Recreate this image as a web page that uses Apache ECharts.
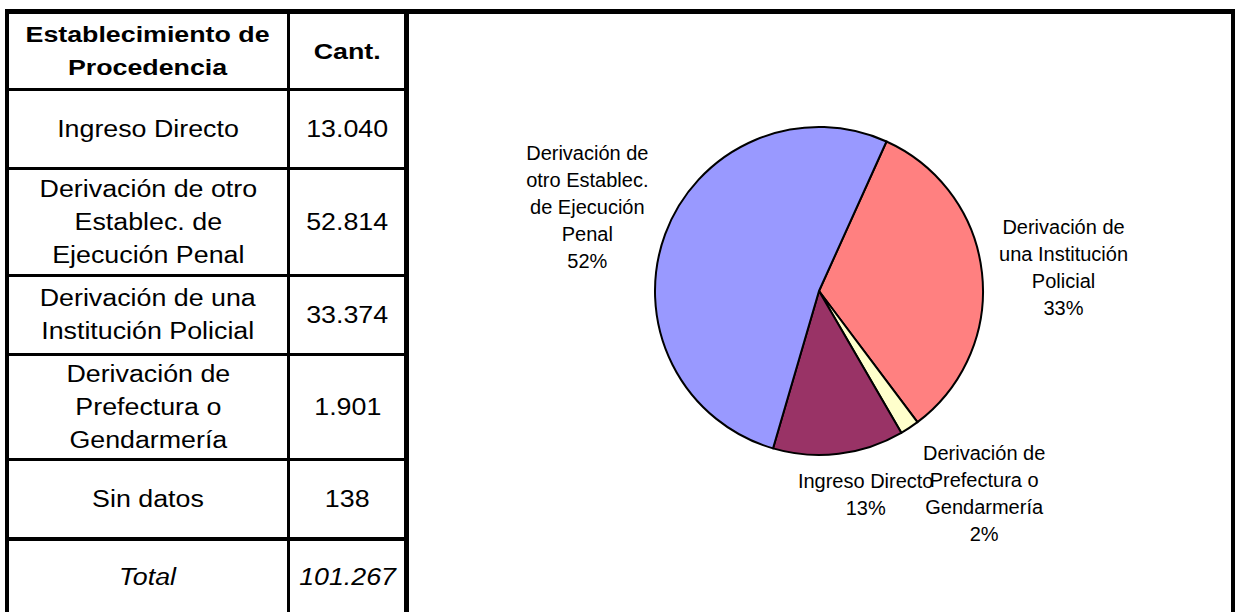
<!DOCTYPE html>
<html>
<head>
<meta charset="utf-8">
<script src="https://cdn.jsdelivr.net/npm/echarts@6/dist/echarts.min.js"></script>
<style>
  html, body { margin: 0; padding: 0; background: #fff; }
  body { width: 1238px; height: 612px; position: relative; overflow: hidden; }
  #chart { position: absolute; left: 0; top: 0; width: 1238px; height: 612px; }
  #overlay { position: absolute; left: 0; top: 0; width: 1238px; height: 612px; pointer-events: none; }
  .line { position: absolute; background: #000; }
  .cell { position: absolute; display: flex; align-items: center; justify-content: center; text-align: center;
          font-family: "Liberation Sans", Arial, sans-serif; color: #000; }
  .cell span { display: inline-block; white-space: pre; }
  .hdr span { font-weight: bold; font-size: 22.5px; line-height: 33px; transform: scaleX(1.19); }
  .body span { font-size: 23px; line-height: 33px; transform: scaleX(1.165); }
  .tot span { font-style: italic; }
</style>
</head>
<body>
<div id="chart"></div>
<div id="overlay"></div>
<script>
// ---------------- data ----------------
const headerLabels = ['Establecimiento de\nProcedencia', 'Cant.'];
const categories = ['Ingreso Directo', 'Derivación de otro Establec. de Ejecución Penal', 'Derivación de una Institución Policial', 'Derivación de Prefectura o Gendarmería', 'Sin datos'];
const tableCategoryText = ['Ingreso Directo', 'Derivación de otro\nEstablec. de\nEjecución Penal', 'Derivación de una\nInstitución Policial', 'Derivación de\nPrefectura o\nGendarmería', 'Sin datos'];
const counts = [13040, 52814, 33374, 1901, 138];
const totalLabel = 'Total';
const totalCount = 101267;
// pie (Sin datos not shown in the chart); clockwise order as drawn
const pieOrder = [2, 3, 0, 1];
const pieLabelNames = ['Ingreso Directo', 'Derivación de\notro Establec.\nde Ejecución\nPenal', 'Derivación de\nuna Institución\nPolicial', 'Derivación de\nPrefectura o\nGendarmería', 'Sin datos'];

// ---------------- styles / layout ----------------
const sliceColors = ['#993366', '#9999FF', '#FF8080', '#FFFFCC', '#CCFFFF'];
const pieCenter = [819, 291];
const pieRadius = 164;
// label placement per category: [distance of label centre from pie centre along the label direction, extra x, extra y]
const labelPlacement = [[205, 22, 0], [247, 0, 2], [246, 0, 3.5], [243, 31, 0], [200, 0, 0]];
// default (pre-layout) label line lengths, chosen only so defaults do not collide
const defaultLineLen = [0, 0, 0, 150, 0];

function fmt(n) { return String(n).replace(/\B(?=(\d{3})+(?!\d))/g, '.'); }

// ---------------- table (HTML) ----------------
const ov = document.getElementById('overlay');
function addLine(x, y, w, h) {
  const d = document.createElement('div'); d.className = 'line';
  d.style.left = x + 'px'; d.style.top = y + 'px'; d.style.width = w + 'px'; d.style.height = h + 'px';
  ov.appendChild(d);
}
function addCell(x, y, w, h, text, cls) {
  const d = document.createElement('div'); d.className = 'cell ' + cls;
  d.style.left = x + 'px'; d.style.top = y + 'px'; d.style.width = w + 'px'; d.style.height = h + 'px';
  const s = document.createElement('span'); s.textContent = text; d.appendChild(s);
  ov.appendChild(d);
}
const col0 = 9, col1 = 287, col2 = 290, col3 = 405;
const rowEdges = [14, 88, 167, 274, 353, 458, 537, 614];
const rowLineH = [3, 3, 3, 3, 3, 4];
addCell(col0, rowEdges[0], col1 - col0, rowEdges[1] - rowEdges[0], headerLabels[0], 'hdr');
addCell(col2, rowEdges[0], col3 - col2, rowEdges[1] - rowEdges[0], headerLabels[1], 'hdr');
for (let i = 0; i < categories.length; i++) {
  const top = rowEdges[i + 1] + rowLineH[i];
  const h = rowEdges[i + 2] - top;
  addCell(col0, top, col1 - col0, h, tableCategoryText[i], 'body');
  addCell(col2, top, col3 - col2, h, fmt(counts[i]), 'body');
}
{
  const top = rowEdges[6] + rowLineH[5];
  const h = rowEdges[7] - top;
  addCell(col0, top, col1 - col0, h, totalLabel, 'body tot');
  addCell(col2, top, col3 - col2, h, fmt(totalCount), 'body tot');
}
addLine(5, 9, 1230, 5);
addLine(5, 9, 4, 620);
addLine(col1, 9, 3, 620);
addLine(404, 9, 5, 620);
addLine(1231, 9, 4, 620);
for (let i = 0; i < 6; i++) addLine(5, rowEdges[i + 1], 400, rowLineH[i]);

// ---------------- pie (ECharts) ----------------
const chart = echarts.init(document.getElementById('chart'), null, { renderer: 'svg' });
const pieData = pieOrder.map(function (ci) {
  return {
    name: categories[ci],
    value: counts[ci],
    itemStyle: { color: sliceColors[ci] },
    labelLine: { length: defaultLineLen[ci], length2: 0 }
  };
});
chart.setOption({
  animation: false,
  backgroundColor: 'transparent',
  series: [{
    type: 'pie',
    center: pieCenter,
    radius: pieRadius,
    startAngle: 65.7,
    clockwise: true,
    avoidLabelOverlap: false,
    percentPrecision: 0,
    silent: true,
    emphasis: { disabled: true },
    itemStyle: { borderColor: '#000', borderWidth: 2 },
    label: {
      show: true,
      position: 'outside',
      distanceToLabelLine: 0,
      fontFamily: '"Liberation Sans", Arial, sans-serif',
      fontSize: 20,
      lineHeight: 27,
      color: '#000',
      formatter: function (p) {
        const lines = (pieLabelNames[pieOrder[p.dataIndex]] + '\n' + p.percent + '%').split('\n');
        return lines.map(function (s) { return '{c|' + s + '}'; }).join('\n');
      },
      rich: { c: { align: 'center', lineHeight: 27, fontSize: 20, color: '#000' } }
    },
    labelLine: { show: true, lineStyle: { width: 0, opacity: 0 } },
    labelLayout: function (p) {
      const pl = labelPlacement[pieOrder[p.dataIndex]];
      let px, py;
      if (p.labelLinePoints && p.labelLinePoints[0]) {
        px = p.labelLinePoints[0][0]; py = p.labelLinePoints[0][1];
      } else {
        px = p.rect.x + p.rect.width / 2; py = p.rect.y + p.rect.height / 2;
      }
      const vx = px - pieCenter[0], vy = py - pieCenter[1];
      const len = Math.sqrt(vx * vx + vy * vy) || 1;
      return {
        x: pieCenter[0] + vx / len * pl[0] + pl[1],
        y: pieCenter[1] + vy / len * pl[0] + pl[2],
        align: 'center',
        verticalAlign: 'middle',
        hideOverlap: false
      };
    },
    data: pieData
  }]
});
</script>
</body>
</html>
